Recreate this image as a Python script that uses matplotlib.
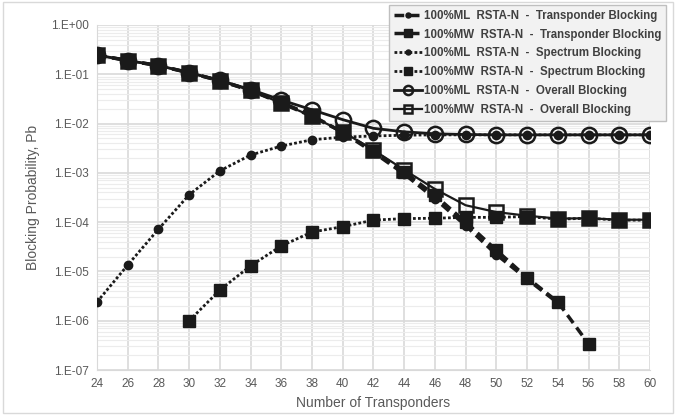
import matplotlib.pyplot as plt
import numpy as np
from matplotlib.ticker import FixedLocator, FuncFormatter, LogLocator, NullFormatter

plt.rcParams['font.family'] = ['Liberation Sans', 'DejaVu Sans']

x_all = [24, 26, 28, 30, 32, 34, 36, 38, 40, 42, 44, 46, 48, 50, 52, 54, 56, 58, 60]

# ML transponder blocking (24..54)
x_ml_tr = x_all[:16]
ml_tr = [0.245, 0.19, 0.15, 0.108, 0.074, 0.047, 0.027, 0.0145, 0.0066, 0.0026,
         0.00095, 0.0003, 8.5e-5, 2.2e-5, 7e-6, 2.3e-6]
# MW transponder blocking (24..56)
x_mw_tr = x_all[:17]
mw_tr = [0.245, 0.19, 0.15, 0.107, 0.074, 0.047, 0.026, 0.014, 0.0067, 0.0028,
         0.00105, 0.00035, 1.0e-4, 2.7e-5, 7.5e-6, 2.4e-6, 3.4e-7]
# ML spectrum blocking (24..60)
ml_sp = [2.4e-6, 1.35e-5, 7.2e-5, 3.6e-4, 1.1e-3, 2.3e-3, 3.5e-3, 4.7e-3, 5.3e-3,
         5.6e-3, 5.8e-3, 5.9e-3, 5.9e-3, 5.9e-3, 5.9e-3, 5.9e-3, 5.9e-3, 5.9e-3, 5.9e-3]
# MW spectrum blocking (30..60)
x_mw_sp = x_all[3:]
mw_sp = [1.0e-6, 4.2e-6, 1.3e-5, 3.3e-5, 6.3e-5, 8.1e-5, 1.1e-4, 1.18e-4, 1.2e-4,
         1.25e-4, 1.25e-4, 1.3e-4, 1.15e-4, 1.2e-4, 1.1e-4, 1.1e-4]
# overall blocking
ml_ov = [0.245, 0.19, 0.15, 0.108, 0.075, 0.049, 0.030, 0.019, 0.012, 0.008,
         0.0068, 0.0062, 0.006, 0.0059, 0.0059, 0.0059, 0.0059, 0.0059, 0.0059]
mw_ov = [0.245, 0.19, 0.15, 0.107, 0.074, 0.047, 0.026, 0.014, 0.0068, 0.0029,
         0.00115, 0.00047, 0.00022, 0.00016, 0.000135, 0.000118, 0.00012, 0.000112, 0.000112]

labels = ["100%ML  RSTA-N  -  Transponder Blocking",
          "100%MW  RSTA-N  -  Transponder Blocking",
          "100%ML  RSTA-N  -  Spectrum Blocking",
          "100%MW  RSTA-N  -  Spectrum Blocking",
          "100%ML  RSTA-N  -  Overall Blocking",
          "100%MW  RSTA-N  -  Overall Blocking"]

fig = plt.figure(figsize=(6.76, 4.15), dpi=100)
ax = fig.add_axes([0.1435, 0.1084, 0.818, 0.8314])

k = '#1a1a1a'
ax.plot(x_ml_tr, ml_tr, linestyle=(0, (2.8, 1.6)), color=k, lw=2.5, marker='o', ms=6,
        label=labels[0], zorder=4)
ax.plot(x_mw_tr, mw_tr, linestyle=(0, (2.8, 1.6)), color=k, lw=2.5, marker='s', ms=8.5,
        label=labels[1], zorder=4)
ax.plot(x_all, ml_sp, linestyle=(0, (1, 0.8)), color=k, lw=2, marker='o', ms=6,
        label=labels[2], zorder=4)
ax.plot(x_mw_sp, mw_sp, linestyle=(0, (1, 0.8)), color=k, lw=2, marker='s', ms=8.5,
        label=labels[3], zorder=4)
ax.plot(x_all, ml_ov, linestyle='-', color=k, lw=2, marker='o', ms=11, mfc='none',
        mew=1.8, label=labels[4], zorder=5)
ax.plot(x_all, mw_ov, linestyle='-', color=k, lw=1.6, marker='s', ms=10, mfc='none',
        mew=1.8, label=labels[5], zorder=5)

ax.set_yscale('log')
ax.set_ylim(1e-7, 1)
ax.set_xlim(24, 60)
ax.xaxis.set_major_locator(FixedLocator(range(24, 61, 2)))
ax.yaxis.set_major_locator(LogLocator(base=10, numticks=10))
ax.yaxis.set_minor_locator(LogLocator(base=10, subs=np.arange(2, 10), numticks=10))
ax.yaxis.set_minor_formatter(NullFormatter())
ax.yaxis.set_major_formatter(FuncFormatter(lambda v, p: "1.E%+03d" % int(round(np.log10(v)))))

ax.grid(True, which='major', color='#d9d9d9', lw=1.2)
ax.grid(True, which='minor', axis='y', color='#ececec', lw=0.8)
ax.set_axisbelow(True)
for side in ['top', 'right']:
    ax.spines[side].set_visible(False)
ax.spines['left'].set_color('#d9d9d9')
ax.spines['bottom'].set_color('#d9d9d9')
ax.tick_params(which='both', length=0, colors='#595959', labelsize=8.5, pad=6)

ax.set_xlabel("Number of Transponders", color='#595959', fontsize=10, labelpad=4)
ax.set_ylabel("Blocking Probability, Pb", color='#595959', fontsize=10, labelpad=8)

leg = ax.legend(loc='upper right', bbox_to_anchor=(0.985, 0.988),
                bbox_transform=fig.transFigure, borderaxespad=0, fontsize=8.3,
                frameon=True, fancybox=False, handlelength=2.4, handletextpad=0.2,
                labelspacing=0.6, borderpad=0.4, markerscale=0.6)
leg.get_frame().set_facecolor('#f2f2f2')
leg.get_frame().set_edgecolor('#bfbfbf')
leg.get_frame().set_alpha(1)
for t in leg.get_texts():
    t.set_color('#404040')
    t.set_fontweight('bold')
leg.set_zorder(10)

fig.patches.append(plt.Rectangle((0.005, 0.005), 0.99, 0.99, transform=fig.transFigure,
                                 fill=False, edgecolor='#d9d9d9', lw=1))

fig.savefig('out.png', dpi=100)
